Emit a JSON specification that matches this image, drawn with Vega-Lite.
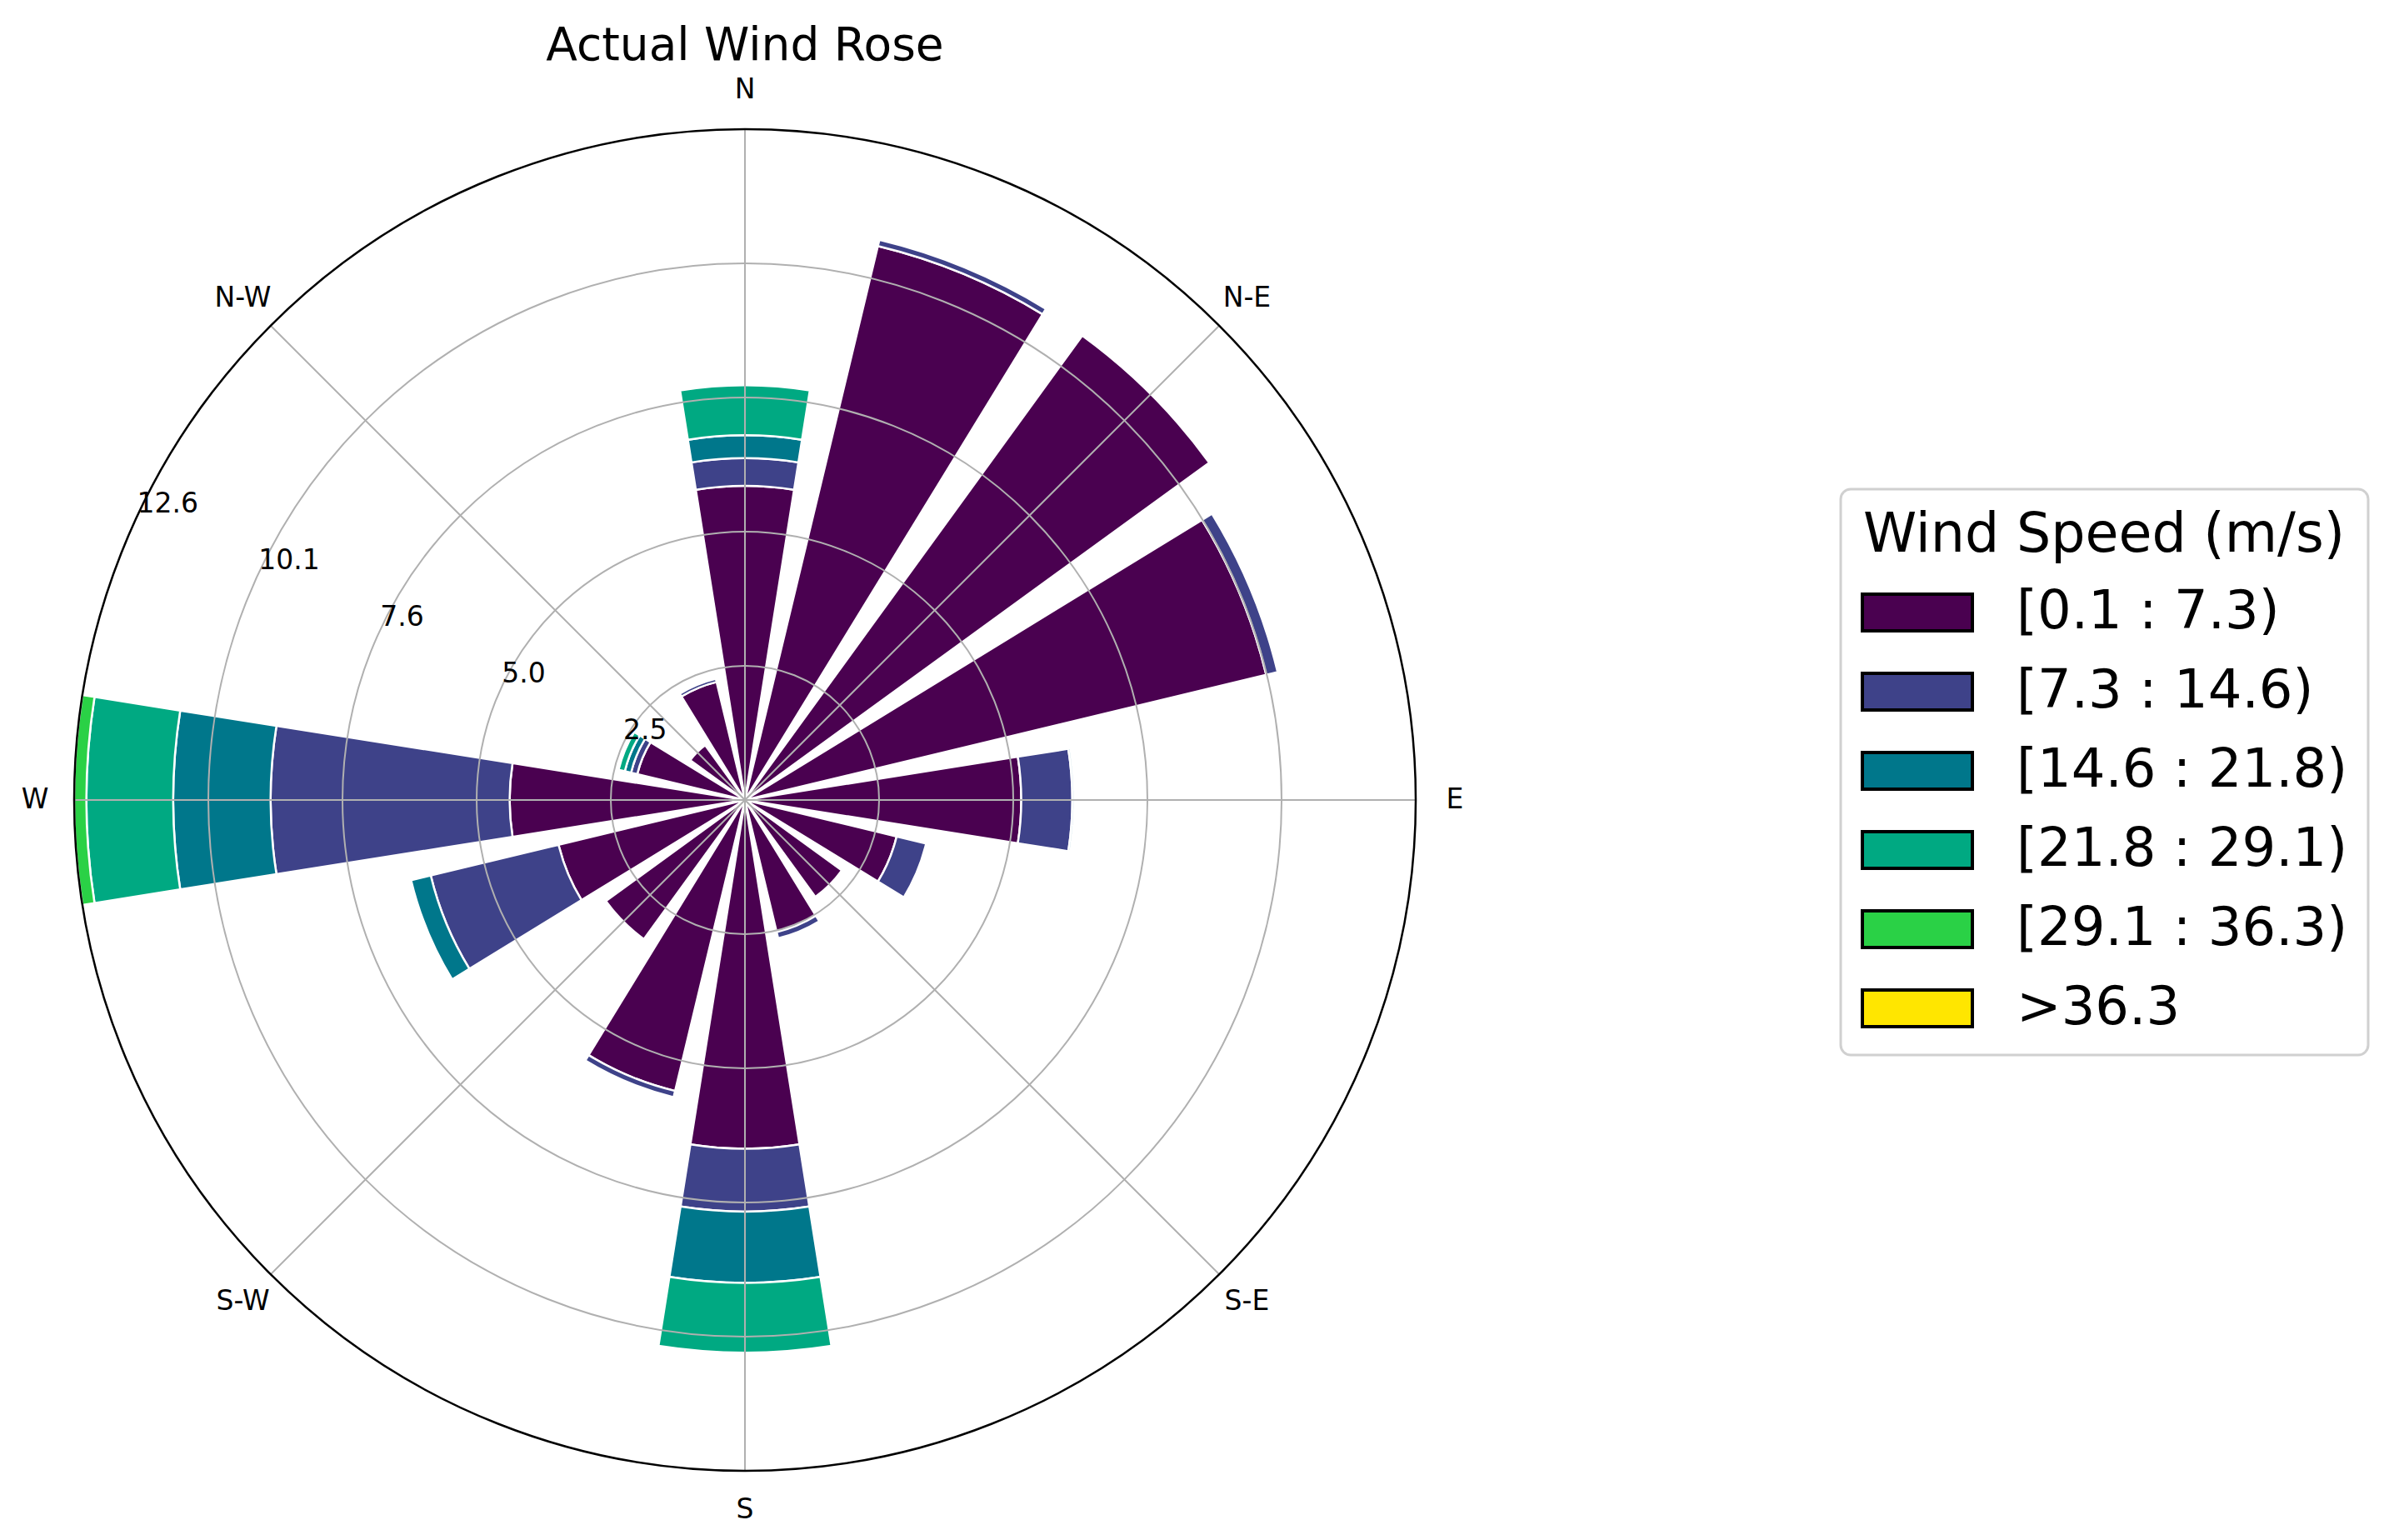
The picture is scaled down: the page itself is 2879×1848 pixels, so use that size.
{
  "$schema": "https://vega.github.io/schema/vega-lite/v6.json",
  "width": 1610,
  "height": 1610,
  "autosize": {"type": "none"},
  "padding": {"left": 89, "top": 155, "right": 1180, "bottom": 83},
  "background": "white",
  "config": {"view": {"stroke": null}, "font": "DejaVu Sans"},
  "title": {"text": "Actual Wind Rose", "fontSize": 55, "font": "DejaVu Sans", "fontWeight": "normal", "frame": "group", "anchor": "middle", "offset": 8, "color": "black"},
  "datasets": {
    "rose": [
      {"dir": "N", "deg": 0, "bin": 0, "speed": "[0.1 : 7.3)", "value": 5.90},
      {"dir": "N", "deg": 0, "bin": 1, "speed": "[7.3 : 14.6)", "value": 0.52},
      {"dir": "N", "deg": 0, "bin": 2, "speed": "[14.6 : 21.8)", "value": 0.43},
      {"dir": "N", "deg": 0, "bin": 3, "speed": "[21.8 : 29.1)", "value": 0.94},
      {"dir": "NNE", "deg": 22.5, "bin": 0, "speed": "[0.1 : 7.3)", "value": 10.70},
      {"dir": "NNE", "deg": 22.5, "bin": 1, "speed": "[7.3 : 14.6)", "value": 0.12},
      {"dir": "NE", "deg": 45, "bin": 0, "speed": "[0.1 : 7.3)", "value": 10.78},
      {"dir": "ENE", "deg": 67.5, "bin": 0, "speed": "[0.1 : 7.3)", "value": 10.07},
      {"dir": "ENE", "deg": 67.5, "bin": 1, "speed": "[7.3 : 14.6)", "value": 0.22},
      {"dir": "E", "deg": 90, "bin": 0, "speed": "[0.1 : 7.3)", "value": 5.19},
      {"dir": "E", "deg": 90, "bin": 1, "speed": "[7.3 : 14.6)", "value": 0.96},
      {"dir": "E", "deg": 90, "bin": 2, "speed": "[14.6 : 21.8)", "value": 0.04},
      {"dir": "ESE", "deg": 112.5, "bin": 0, "speed": "[0.1 : 7.3)", "value": 2.93},
      {"dir": "ESE", "deg": 112.5, "bin": 1, "speed": "[7.3 : 14.6)", "value": 0.57},
      {"dir": "SE", "deg": 135, "bin": 0, "speed": "[0.1 : 7.3)", "value": 2.25},
      {"dir": "SSE", "deg": 157.5, "bin": 0, "speed": "[0.1 : 7.3)", "value": 2.55},
      {"dir": "SSE", "deg": 157.5, "bin": 1, "speed": "[7.3 : 14.6)", "value": 0.12},
      {"dir": "S", "deg": 180, "bin": 0, "speed": "[0.1 : 7.3)", "value": 6.55},
      {"dir": "S", "deg": 180, "bin": 1, "speed": "[7.3 : 14.6)", "value": 1.18},
      {"dir": "S", "deg": 180, "bin": 2, "speed": "[14.6 : 21.8)", "value": 1.34},
      {"dir": "S", "deg": 180, "bin": 3, "speed": "[21.8 : 29.1)", "value": 1.31},
      {"dir": "SSW", "deg": 202.5, "bin": 0, "speed": "[0.1 : 7.3)", "value": 5.62},
      {"dir": "SSW", "deg": 202.5, "bin": 1, "speed": "[7.3 : 14.6)", "value": 0.12},
      {"dir": "SW", "deg": 225, "bin": 0, "speed": "[0.1 : 7.3)", "value": 3.23},
      {"dir": "WSW", "deg": 247.5, "bin": 0, "speed": "[0.1 : 7.3)", "value": 3.60},
      {"dir": "WSW", "deg": 247.5, "bin": 1, "speed": "[7.3 : 14.6)", "value": 2.47},
      {"dir": "WSW", "deg": 247.5, "bin": 2, "speed": "[14.6 : 21.8)", "value": 0.38},
      {"dir": "W", "deg": 270, "bin": 0, "speed": "[0.1 : 7.3)", "value": 4.42},
      {"dir": "W", "deg": 270, "bin": 1, "speed": "[7.3 : 14.6)", "value": 4.49},
      {"dir": "W", "deg": 270, "bin": 2, "speed": "[14.6 : 21.8)", "value": 1.83},
      {"dir": "W", "deg": 270, "bin": 3, "speed": "[21.8 : 29.1)", "value": 1.63},
      {"dir": "W", "deg": 270, "bin": 4, "speed": "[29.1 : 36.3)", "value": 0.23},
      {"dir": "WNW", "deg": 292.5, "bin": 0, "speed": "[0.1 : 7.3)", "value": 2.08},
      {"dir": "WNW", "deg": 292.5, "bin": 1, "speed": "[7.3 : 14.6)", "value": 0.12},
      {"dir": "WNW", "deg": 292.5, "bin": 2, "speed": "[14.6 : 21.8)", "value": 0.12},
      {"dir": "WNW", "deg": 292.5, "bin": 3, "speed": "[21.8 : 29.1)", "value": 0.12},
      {"dir": "NW", "deg": 315, "bin": 0, "speed": "[0.1 : 7.3)", "value": 1.27},
      {"dir": "NNW", "deg": 337.5, "bin": 0, "speed": "[0.1 : 7.3)", "value": 2.28},
      {"dir": "NNW", "deg": 337.5, "bin": 1, "speed": "[7.3 : 14.6)", "value": 0.06}
    ],
    "compass": [
      {"deg": 0, "label": "N"},
      {"deg": 45, "label": "N-E"},
      {"deg": 90, "label": "E"},
      {"deg": 135, "label": "S-E"},
      {"deg": 180, "label": "S"},
      {"deg": 225, "label": "S-W"},
      {"deg": 270, "label": "W"},
      {"deg": 315, "label": "N-W"}
    ],
    "rticks": [
      {"r": 2.52, "label": "2.5"},
      {"r": 5.04, "label": "5.0"},
      {"r": 7.56, "label": "7.6"},
      {"r": 10.08, "label": "10.1"},
      {"r": 12.6, "label": "12.6"}
    ]
  },
  "layer": [
    {
      "data": {"name": "rose"},
      "transform": [
        {"stack": "value", "groupby": ["dir"], "sort": [{"field": "bin", "order": "ascending"}], "as": ["r0", "r1"]}
      ],
      "mark": {"type": "arc", "stroke": "white", "strokeWidth": 2.5, "thetaOffset": -0.1571, "theta2Offset": 0.1571},
      "encoding": {
        "theta": {"field": "deg", "type": "quantitative", "stack": null, "scale": {"domain": [0, 360], "range": [0, 6.283185307], "zero": true, "nice": false}},
        "theta2": {"field": "deg"},
        "radius": {"field": "r1", "type": "quantitative", "stack": null, "scale": {"type": "linear", "domain": [0, 12.6], "range": [0, 805], "zero": true, "nice": false}},
        "radius2": {"field": "r0"},
        "color": {
          "field": "speed",
          "type": "nominal",
          "scale": {
            "domain": ["[0.1 : 7.3)", "[7.3 : 14.6)", "[14.6 : 21.8)", "[21.8 : 29.1)", "[29.1 : 36.3)", ">36.3"],
            "range": ["#4a0150", "#3e4289", "#00778b", "#00a982", "#2ad146", "#ffe600"]
          },
          "legend": {
            "title": "Wind Speed (m/s)",
            "orient": "none",
            "legendX": 2120,
            "legendY": 432,
            "titleFontSize": 65,
            "titleFont": "DejaVu Sans",
            "titleFontWeight": "normal",
            "titleColor": "black",
            "titleAnchor": "middle",
            "titleLimit": 2000,
            "titlePadding": 2,
            "labelFontSize": 64,
            "labelFont": "DejaVu Sans",
            "labelColor": "black",
            "labelLimit": 2000,
            "labelOffset": 62,
            "symbolType": "M-1.2,-0.4H1.2V0.4H-1.2Z",
            "symbolSize": 12100,
            "symbolOffset": 11,
            "symbolStrokeColor": "black",
            "symbolStrokeWidth": 4,
            "rowPadding": 6,
            "padding": 24,
            "fillColor": "white",
            "strokeColor": "#d0d0d0",
            "cornerRadius": 12,
            "encode": {
              "symbols": {"update": {"stroke": {"value": "black"}, "strokeWidth": {"value": 4}, "opacity": {"value": 1}}},
              "legend": {"update": {"strokeWidth": {"value": 3}}}
            }
          }
        }
      }
    },
    {
      "data": {"name": "rticks"},
      "transform": [{"filter": "datum.r < 12.6"}],
      "mark": {"type": "arc", "filled": false, "stroke": "#b0b0b0", "strokeWidth": 2, "theta": 0, "theta2": 6.2832},
      "encoding": {
        "radius": {"field": "r", "type": "quantitative", "stack": null, "scale": {"type": "linear", "domain": [0, 12.6], "range": [0, 805], "zero": true, "nice": false}}
      }
    },
    {
      "data": {"name": "compass"},
      "mark": {"type": "arc", "filled": false, "stroke": "#b0b0b0", "strokeWidth": 2},
      "encoding": {
        "theta": {"field": "deg", "type": "quantitative", "stack": null, "scale": {"domain": [0, 360], "range": [0, 6.283185307], "zero": true, "nice": false}},
        "theta2": {"field": "deg"},
        "radius": {"datum": 12.6, "type": "quantitative", "stack": null}
      }
    },
    {
      "data": {"name": "rticks"},
      "transform": [{"filter": "datum.r == 12.6"}],
      "mark": {"type": "arc", "filled": false, "stroke": "black", "strokeWidth": 2.5, "theta": 0, "theta2": 6.2832},
      "encoding": {
        "radius": {"field": "r", "type": "quantitative", "stack": null}
      }
    },
    {
      "data": {"name": "compass"},
      "mark": {"type": "text", "fontSize": 33, "font": "DejaVu Sans", "align": "center", "baseline": "middle", "radiusOffset": 47, "color": "black"},
      "encoding": {
        "theta": {"field": "deg", "type": "quantitative", "stack": null},
        "radius": {"datum": 12.6, "type": "quantitative", "stack": null},
        "text": {"field": "label"}
      }
    },
    {
      "data": {"name": "rticks"},
      "mark": {"type": "text", "fontSize": 33, "font": "DejaVu Sans", "align": "left", "baseline": "alphabetic", "dy": -5, "color": "black"},
      "encoding": {
        "theta": {"datum": 295, "type": "quantitative"},
        "radius": {"field": "r", "type": "quantitative", "stack": null},
        "text": {"field": "label"}
      }
    }
  ]
}
